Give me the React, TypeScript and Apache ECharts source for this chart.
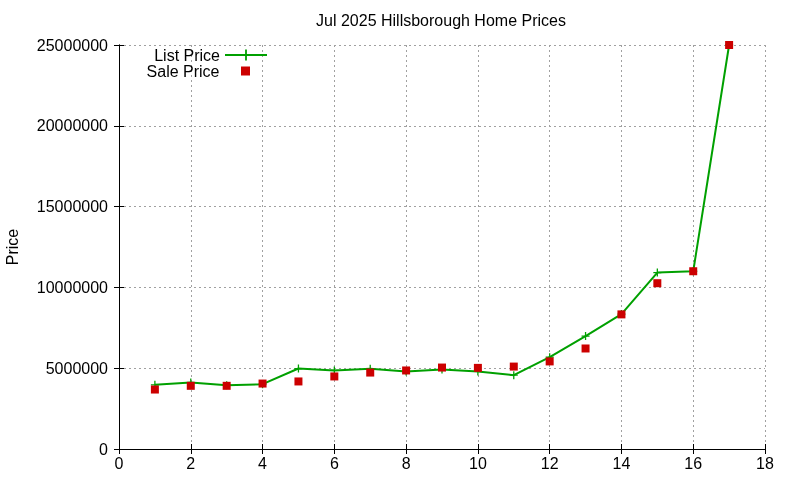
import React, { useEffect, useRef } from "react";
import * as echarts from "echarts";

const months = [1, 2, 3, 4, 5, 6, 7, 8, 9, 10, 11, 12, 13, 14, 15, 16, 17];
const listPrice = [
  3970000, 4110000, 3950000, 4010000, 4980000, 4860000, 4960000, 4800000, 4920000,
  4800000, 4570000, 5680000, 6990000, 8350000, 10920000, 11000000, 25000000,
];
const salePrice = [
  3680000, 3910000, 3910000, 4050000, 4180000, 4490000, 4730000, 4860000, 5040000,
  5020000, 5100000, 5420000, 6220000, 8330000, 10260000, 11000000, 25000000,
];

const FONT = "Liberation Sans, Arial, sans-serif";
const plus = "path://M0,4.2H10V5.8H0ZM4.2,0H5.8V10H4.2Z";
const square = "path://M0,0H10V10H0Z";

const App: React.FC = () => {
  const chartRef = useRef<HTMLDivElement>(null);

  useEffect(() => {
    const chart = echarts.init(chartRef.current!, null, { renderer: "svg" });

    const gridLine = { show: true, lineStyle: { color: "#a0a0a0", type: [2, 3] as any, width: 1 } };
    const border = { show: true, lineStyle: { color: "#000", width: 1 } };
    const ticks = { show: true, inside: true, length: 5, lineStyle: { color: "#000" } };

    chart.setOption({
      animation: false,
      textStyle: { fontFamily: FONT },
      title: {
        text: "Jul 2025 Hillsborough Home Prices",
        left: 436,
        top: 7,
        textAlign: "center",
        textStyle: { fontFamily: FONT, fontSize: 16, fontWeight: "normal", color: "#000" },
      },
      legend: [
        {
          data: ["List Price"],
          right: 527,
          top: 42,
          align: "right",
          itemWidth: 42,
          itemHeight: 14,
          textStyle: { fontFamily: FONT, fontSize: 16, color: "#000" },
        },
        {
          data: [{ name: "Sale Price", icon: square }],
          right: 545,
          top: 58,
          align: "right",
          itemWidth: 42,
          itemHeight: 9,
          symbolKeepAspect: true,
          textStyle: { fontFamily: FONT, fontSize: 16, color: "#000" },
        },
      ],
      grid: { left: 119, right: 35, top: 45, bottom: 31, outerBoundsMode: "none" },
      xAxis: [
        {
          type: "value",
          min: 0,
          max: 18,
          interval: 2,
          axisLine: border,
          axisTick: ticks,
          splitLine: gridLine,
          axisLabel: { margin: 6, fontFamily: FONT, fontSize: 16, color: "#000" },
        },
        {
          type: "value",
          position: "top",
          min: 0,
          max: 18,
          interval: 2,
          axisLine: border,
          axisTick: ticks,
          splitLine: { show: false },
          axisLabel: { show: false },
        },
      ],
      yAxis: [
        {
          type: "value",
          min: 0,
          max: 25000000,
          interval: 5000000,
          name: "Price",
          nameLocation: "middle",
          nameGap: 99,
          nameTextStyle: { fontFamily: FONT, fontSize: 16, color: "#000" },
          axisLine: border,
          axisTick: ticks,
          splitLine: gridLine,
          axisLabel: {
            margin: 11,
            fontFamily: FONT,
            fontSize: 16,
            color: "#000",
            formatter: (v: number) => String(v),
          },
        },
        {
          type: "value",
          position: "right",
          min: 0,
          max: 25000000,
          interval: 5000000,
          axisLine: border,
          axisTick: ticks,
          splitLine: { show: false },
          axisLabel: { show: false },
        },
      ],
      series: [
        {
          name: "List Price",
          type: "line",
          data: months.map((m, i) => [m, listPrice[i]]),
          symbol: plus,
          symbolSize: 8,
          showAllSymbol: true,
          clip: false,
          lineStyle: { color: "#00a000", width: 2 },
          itemStyle: { color: "#00a000" },
        },
        {
          name: "Sale Price",
          type: "scatter",
          data: months.map((m, i) => [m, salePrice[i]]),
          symbol: "rect",
          symbolSize: 8,
          clip: false,
          itemStyle: { color: "#cc0000", opacity: 1 },
          z: 3,
        },
      ],
    });

    return () => {
      chart.dispose();
    };
  }, []);

  return (
    <div
      ref={chartRef}
      style={{ position: "fixed", left: 0, top: 0, width: "800px", height: "480px" }}
    />
  );
};

export default App;
